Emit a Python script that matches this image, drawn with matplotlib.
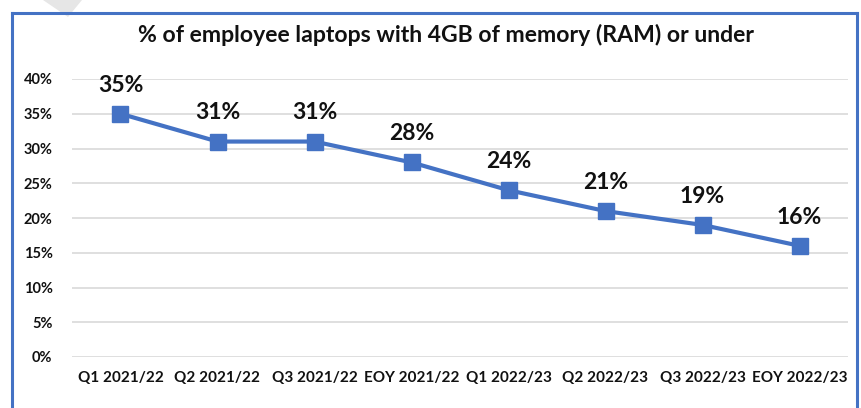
import matplotlib
matplotlib.use("Agg")

import matplotlib.pyplot as plt
from matplotlib.lines import Line2D
from matplotlib.patches import Polygon
from matplotlib.ticker import PercentFormatter

periods = ["Q1 2021/22", "Q2 2021/22", "Q3 2021/22", "EOY 2021/22",
           "Q1 2022/23", "Q2 2022/23", "Q3 2022/23", "EOY 2022/23"]
share_4gb = [0.35, 0.31, 0.31, 0.28, 0.24, 0.21, 0.19, 0.16]
y_ticks = [0.0, 0.05, 0.10, 0.15, 0.20, 0.25, 0.30, 0.35, 0.40]

blue = "#4472C4"
W, H = 862, 408

plt.rcParams["font.family"] = ["Lato", "DejaVu Sans"]

fig = plt.figure(figsize=(W / 100, H / 100), dpi=100)
ax = fig.add_axes([72 / W, 1 - 357 / H, (848 - 72) / W, (357 - 79) / H])

x = list(range(len(periods)))
ax.plot(x, share_4gb, color=blue, linewidth=3, marker="s", markersize=11,
        zorder=3)
for xi, v in zip(x, share_4gb):
    ax.annotate(f"{v:.0%}", (xi, v), xytext=(0, 13), textcoords="offset points",
                ha="center", va="bottom", fontsize=16.5, fontweight="bold",
                color="#111111")

ax.set_xlim(-0.5, len(periods) - 0.5)
ax.set_ylim(0, 0.40)
ax.set_yticks(y_ticks)
ax.yaxis.set_major_formatter(PercentFormatter(1.0, decimals=0))
ax.set_xticks(x)
ax.set_xticklabels(periods)
ax.grid(axis="y", color="#d9d9d9", linewidth=1.2)
ax.set_axisbelow(True)
for s in ax.spines.values():
    s.set_visible(False)
ax.tick_params(length=0, labelsize=11, pad=10)
ax.tick_params(axis="y", labelsize=10.5, pad=14)
for lbl in ax.get_xticklabels() + ax.get_yticklabels():
    lbl.set_fontweight("bold")
    lbl.set_color("#111111")

fig.text(446 / W, 1 - 35 / H, "% of employee laptops with 4GB of memory (RAM) or under",
         ha="center", va="center", fontsize=16.6, fontweight="bold",
         color="#111111")

# chart frame (no bottom edge visible)
fx0, fx1, fy1 = 12 / W, 857.5 / W, 1 - 12.5 / H
for xs, ys in [([fx0, fx0], [0, fy1]), ([fx0, fx1], [fy1, fy1]),
               ([fx1, fx1], [fy1, 0])]:
    fig.add_artist(Line2D(xs, ys, color=blue, linewidth=2.2,
                          transform=fig.transFigure))

# faint grey mark at the top-left corner
fig.add_artist(Polygon([(43 / W, 1), (82 / W, 1), (68 / W, 1 - 17 / H)],
                       closed=True, facecolor="#e6e6e6", edgecolor="none",
                       transform=fig.transFigure))

fig.savefig("out.png", dpi=100)
